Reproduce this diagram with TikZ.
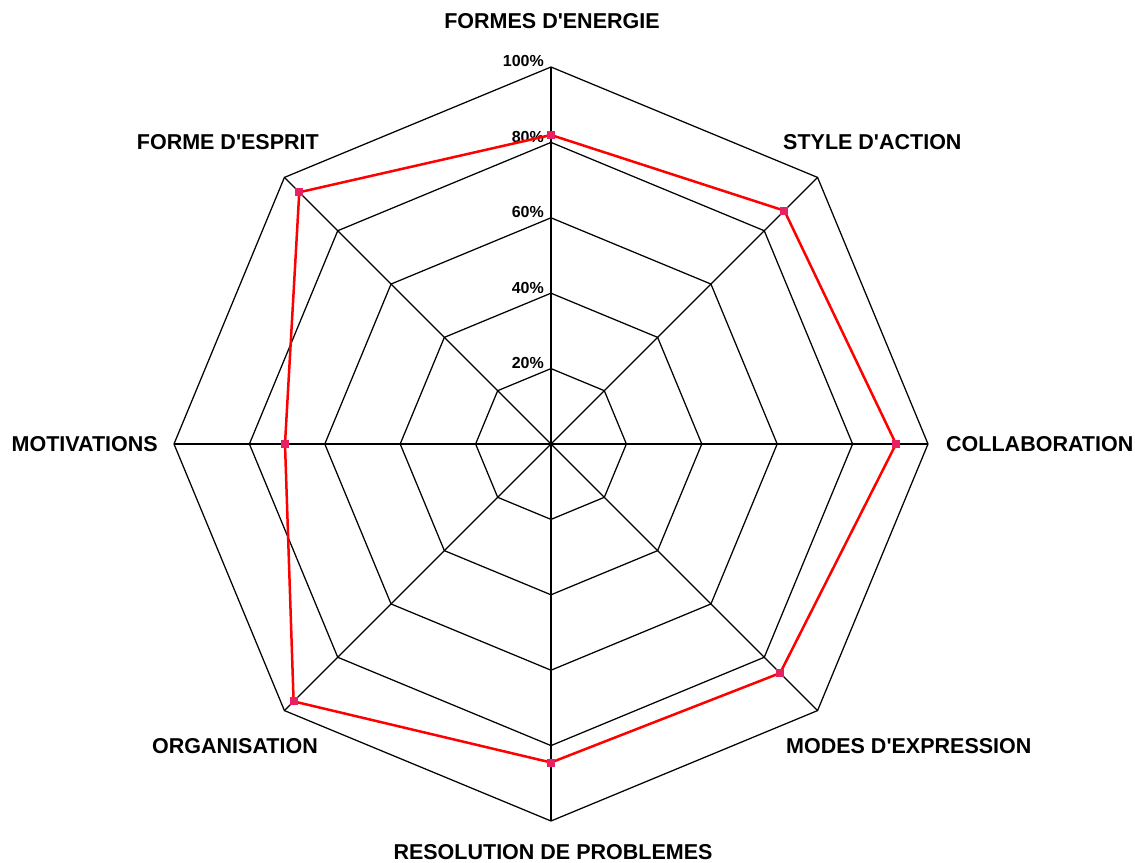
\documentclass[tikz,border=0pt]{standalone}
\usepackage{fontspec}
\setmainfont{Liberation Sans}
\newcommand{\gridColor}{black}
\newcommand{\scoreColor}{red}
\definecolor{markColor}{RGB}{232,32,100}

\begin{document}
\begin{tikzpicture}[
            x=1pt, y=1pt,
            grid line/.style={draw=\gridColor, line width=1.25pt},
            score line/.style={draw=\scoreColor, line width=2.5pt, line join=miter},
            score mark/.style={fill=markColor, minimum size=8pt, inner sep=0pt},
            axis label/.style={font=\fontsize{21.5}{25}\selectfont\bfseries, inner sep=0pt},
            level label/.style={font=\fontsize{16}{18}\selectfont\bfseries, inner sep=0pt, anchor=base east}
        ]
        \useasboundingbox (-551,-418) rectangle (584,444);
        \coordinate (center) at (0,0);
        % rings
        \foreach \r in {75.4,150.8,226.2,301.6,377}{
                \draw[grid line] (90:\r) -- (45:\r) -- (0:\r) -- (-45:\r) -- (-90:\r) -- (-135:\r) -- (180:\r) -- (135:\r) -- cycle;
            }
        % axes
        \foreach \a/\n in {90/energie,45/action,0/collaboration,-45/expression,-90/resolution,-135/organisation,180/motivations,135/esprit}{
                \coordinate (\n) at (\a:377);
                \draw[grid line] (center) -- (\n);
            }
        % percent labels
        \foreach \p/\r in {20/75.4,40/150.8,60/226.2,80/301.6,100/377}{
                \node[level label] (level\p) at (-7,\r) {\p\%};
            }
        % scores
        \foreach \i/\a/\r in {1/90/309,2/45/330,3/0/345,4/-45/324,5/-90/318.5,6/-135/364,7/180/266,8/135/356}{
                \coordinate (s\i) at (\a:\r);
            }
        \draw[score line] (s1) -- (s2) -- (s3) -- (s4) -- (s5) -- (s6) -- (s7) -- (s8) -- cycle;
        \foreach \i in {1,...,8}{
                \node[score mark] (mark\i) at (s\i) {};
            }
        % axis labels
        \node[axis label] (labelEnergie) at (1,423) {FORMES D\textquotesingle ENERGIE};
        \node[axis label, anchor=west] (labelAction) at (232,302) {STYLE D\textquotesingle ACTION};
        \node[axis label, anchor=west] (labelCollaboration) at (395,0) {COLLABORATION};
        \node[axis label, anchor=west] (labelExpression) at (235,-302) {MODES D\textquotesingle EXPRESSION};
        \node[axis label] (labelResolution) at (2,-408) {RESOLUTION DE PROBLEMES};
        \node[axis label, anchor=east] (labelOrganisation) at (-233,-302) {ORGANISATION};
        \node[axis label, anchor=east] (labelMotivations) at (-393,0) {MOTIVATIONS};
        \node[axis label, anchor=east] (labelEsprit) at (-232,302) {FORME D\textquotesingle ESPRIT};
    \end{tikzpicture}
\end{document}
